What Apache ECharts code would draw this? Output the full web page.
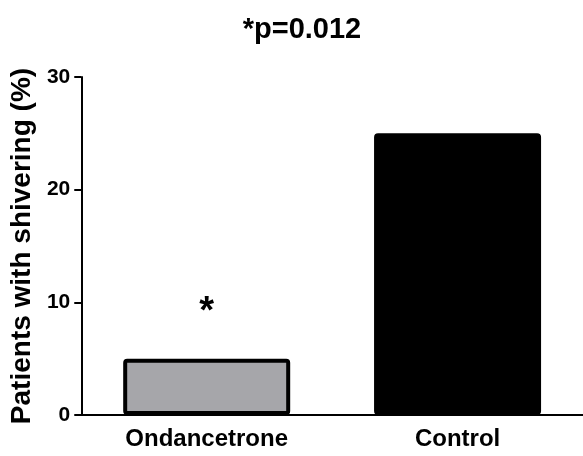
<!DOCTYPE html>
<html>
<head>
<meta charset="utf-8">
<script src="https://cdn.jsdelivr.net/npm/echarts@6/dist/echarts.min.js"></script>
<style>
  html, body { margin: 0; padding: 0; background: #fff; }
  #main { width: 583px; height: 456px; }
</style>
</head>
<body>
<div id="main"></div>
<script>
// data
const categories = ['Ondancetrone', 'Control']
const shivering = [5, 25]
const barColors = ['#a6a6aa', '#000000']
const marks = ['*', '']
const yTicks = { min: 0, max: 30, interval: 10 }

const myChart = echarts.init(document.getElementById('main'))
myChart.setOption({
  animation: false,
  title: {
    text: '*p=0.012',
    left: 297,
    top: 10,
    textAlign: 'center',
    textStyle: { fontFamily: 'Liberation Sans', fontSize: 29, fontWeight: 'bold', color: '#000' }
  },
  grid: { left: 78, right: -7, top: 77, bottom: 41 },
  xAxis: {
    type: 'category',
    data: categories,
    axisLine: { lineStyle: { color: '#000', width: 2 } },
    axisTick: { alignWithLabel: true, length: 7, lineStyle: { color: '#000', width: 2 } },
    axisLabel: { color: '#000', fontFamily: 'Liberation Sans', fontSize: 24, fontWeight: 'bold', margin: 12 }
  },
  yAxis: {
    type: 'value',
    min: yTicks.min,
    max: yTicks.max,
    interval: yTicks.interval,
    name: 'Patients with shivering (%)',
    nameLocation: 'middle',
    nameGap: 45,
    nameTextStyle: { color: '#000', fontFamily: 'Liberation Sans', fontSize: 28, fontWeight: 'bold' },
    splitLine: { show: false },
    axisLine: { show: true, lineStyle: { color: '#000', width: 2 } },
    axisTick: { show: true, length: 7, lineStyle: { color: '#000', width: 2 } },
    axisLabel: { color: '#000', fontFamily: 'Liberation Sans', fontSize: 21, fontWeight: 'bold', margin: 11 }
  },
  series: [
    {
      type: 'bar',
      barWidth: 167,
      data: shivering.map((v, i) => ({
        value: v,
        itemStyle: { color: barColors[i], borderColor: '#000', borderWidth: 4, borderRadius: 2 },
        label: {
          show: marks[i] !== '',
          formatter: marks[i],
          position: 'top',
          distance: 27,
          color: '#000',
          fontFamily: 'Liberation Sans',
          fontSize: 38,
          fontWeight: 'bold'
        }
      }))
    }
  ]
})
</script>
</body>
</html>
